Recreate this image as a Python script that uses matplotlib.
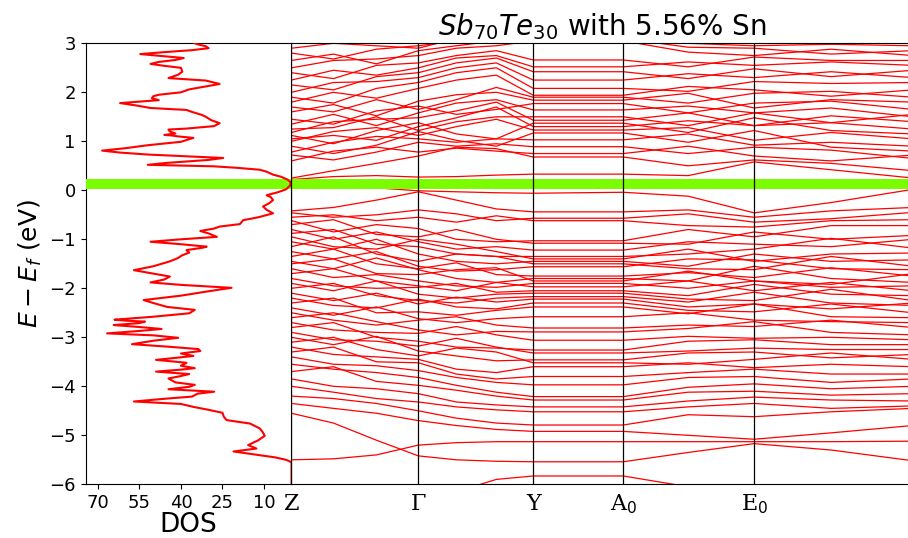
import numpy as np
import matplotlib.pyplot as plt

# density of states (energy in eV, states)
dos_energy = [-6.0, -5.55, -5.50, -5.45, -5.33, -5.27, -5.20, -5.10, -5.01, -4.93,
              -4.86, -4.76, -4.69, -4.62, -4.54, -4.48, -4.42, -4.36, -4.31, -4.25,
              -4.21, -4.15, -4.11, -4.06, -4.01, -3.97, -3.92, -3.84, -3.79, -3.75,
              -3.70, -3.66, -3.63, -3.58, -3.52, -3.46, -3.42, -3.38, -3.33, -3.28,
              -3.24, -3.19, -3.14, -3.07, -3.01, -2.96, -2.92, -2.87, -2.83, -2.79,
              -2.75, -2.71, -2.68, -2.66, -2.64, -2.58, -2.51, -2.44, -2.38, -2.30,
              -2.24, -2.15, -2.06, -1.99, -1.93, -1.88, -1.82, -1.76, -1.70, -1.63,
              -1.55, -1.45, -1.38, -1.33, -1.27, -1.22, -1.17, -1.15, -1.10, -1.05,
              -1.00, -0.95, -0.88, -0.83, -0.78, -0.74, -0.69, -0.61, -0.55, -0.47,
              -0.40, -0.33, -0.26, -0.20, -0.14, -0.10, -0.04, 0.02, 0.10, 0.16,
              0.22, 0.28, 0.32, 0.38, 0.42, 0.46, 0.49, 0.52, 0.56, 0.62,
              0.66, 0.70, 0.73, 0.77, 0.81, 0.86, 0.92, 0.99, 1.07, 1.10,
              1.12, 1.13, 1.16, 1.20, 1.24, 1.26, 1.31, 1.37, 1.43, 1.50,
              1.54, 1.60, 1.64, 1.68, 1.73, 1.78, 1.81, 1.84, 1.88, 1.92,
              1.95, 2.00, 2.06, 2.12, 2.17, 2.24, 2.29, 2.36, 2.42, 2.50,
              2.54, 2.58, 2.62, 2.66, 2.70, 2.74, 2.78, 2.82, 2.86, 2.90,
              2.94, 2.98, 3.0]
dos_states = [0, 0, 2, 6, 21, 12.7, 15.7, 12, 9.7, 10.5,
              11.5, 15, 23.5, 24.5, 25, 30, 35.5, 40, 57, 45,
              36, 34, 28, 44.5, 37, 35, 42, 44.5, 40, 37,
              49, 40, 35, 40, 38, 49, 42, 35.5, 40, 33,
              33.7, 45, 57.7, 50, 41, 50, 66.7, 55, 47, 55,
              64.3, 55, 53, 60, 64, 50, 37, 35, 45, 50,
              53.5, 40, 30, 21.7, 40, 51, 46, 44, 50, 57,
              50, 44, 41, 39.7, 37, 38, 32, 30.7, 40, 51,
              40, 27, 30, 33, 28, 26, 18.7, 17.5, 12, 6.7,
              9, 10.3, 8, 6.7, 7.5, 9, 5, 2, 0.5, 0.3,
              1.5, 4, 6.7, 9, 11.5, 20, 28.3, 52, 45, 30,
              24.7, 40, 52, 62, 68.5, 60, 52, 40, 35.5, 41,
              43.5, 46, 42, 44, 44.5, 38, 28, 26, 29, 31,
              32.5, 36, 38, 51, 56, 62, 55, 48, 50.5, 50,
              48, 40, 37, 31, 26, 31, 44.5, 41, 39.5, 40,
              46, 51, 48, 42, 39, 47, 54.7, 46, 36, 30,
              31, 34, 35]

# k-path (distance along path) and high-symmetry points
k_dist = [0, 42, 85, 127, 165, 205, 242, 332, 397, 463, 540, 622]
sym_index = [0, 3, 6, 7, 9]
sym_labels = ['Z', 'Γ', 'Y', 'A$_0$', 'E$_0$']

# band energies (eV) at each k_dist node
valence = [
    [0.15, 0.12, 0.05, -0.01, -0.03, -0.05, -0.06, -0.04, -0.12, -0.46, -0.25, 0.02],
    [-0.42, -0.35, -0.20, -0.03, -0.20, -0.38, -0.44, -0.44, -0.40, -0.55, -0.42, -0.35],
    [-0.46, -0.55, -0.50, -0.40, -0.48, -0.62, -0.57, -0.57, -0.48, -0.65, -0.58, -0.45],
    [-0.55, -0.50, -0.62, -0.55, -0.65, -0.52, -0.62, -0.62, -0.72, -0.75, -0.62, -0.60],
    [-0.62, -0.85, -0.70, -0.78, -1.00, -1.05, -1.03, -1.03, -0.80, -0.95, -0.72, -0.72],
    [-0.70, -0.60, -0.90, -0.95, -0.80, -1.00, -1.08, -1.08, -1.10, -0.85, -1.00, -0.92],
    [-0.80, -1.00, -0.85, -1.05, -1.20, -1.15, -1.22, -1.22, -1.05, -1.10, -1.15, -1.00],
    [-0.88, -0.80, -1.10, -1.15, -1.30, -1.35, -1.35, -1.35, -1.30, -1.20, -0.98, -1.18],
    [-0.95, -1.15, -1.20, -1.00, -1.10, -1.25, -1.40, -1.40, -1.20, -1.45, -1.30, -1.28],
    [-1.05, -1.20, -1.00, -1.30, -1.45, -1.50, -1.45, -1.45, -1.55, -1.30, -1.45, -1.42],
    [-1.15, -0.95, -1.30, -1.45, -1.30, -1.35, -1.50, -1.50, -1.60, -1.62, -1.35, -1.55],
    [-1.25, -1.40, -1.25, -1.55, -1.65, -1.62, -1.56, -1.56, -1.40, -1.42, -1.60, -1.62],
    [-1.35, -1.20, -1.50, -1.60, -1.48, -1.72, -1.75, -1.75, -1.68, -1.78, -1.58, -1.75],
    [-1.45, -1.60, -1.38, -1.62, -1.80, -1.88, -1.80, -1.80, -1.85, -1.55, -1.80, -1.88],
    [-1.50, -1.40, -1.70, -1.72, -1.62, -1.58, -1.85, -1.85, -1.65, -1.85, -1.92, -1.70],
    [-1.60, -1.78, -1.72, -1.85, -1.95, -1.98, -1.90, -1.90, -2.00, -1.85, -1.98, -1.95],
    [-1.70, -1.60, -1.85, -1.95, -2.05, -1.88, -1.97, -1.97, -1.85, -2.05, -1.88, -2.05],
    [-1.80, -1.95, -2.00, -1.98, -1.90, -2.08, -2.05, -2.05, -2.15, -1.92, -2.12, -2.15],
    [-1.90, -2.05, -1.85, -2.12, -2.20, -2.12, -2.10, -2.10, -2.22, -2.25, -2.02, -2.25],
    [-2.00, -1.90, -2.15, -2.25, -2.30, -2.20, -2.17, -2.17, -2.28, -2.08, -2.30, -2.35],
    [-2.10, -2.25, -2.10, -2.32, -2.18, -2.28, -2.22, -2.22, -2.38, -2.32, -2.42, -2.30],
    [-2.20, -2.35, -2.40, -2.22, -2.38, -2.42, -2.30, -2.30, -2.45, -2.48, -2.32, -2.50],
    [-2.30, -2.20, -2.50, -2.48, -2.55, -2.45, -2.38, -2.38, -2.52, -2.32, -2.58, -2.60],
    [-2.40, -2.55, -2.38, -2.62, -2.70, -2.62, -2.58, -2.58, -2.50, -2.65, -2.68, -2.70],
    [-2.50, -2.65, -2.75, -2.65, -2.58, -2.75, -2.81, -2.81, -2.75, -2.78, -2.65, -2.80],
    [-2.60, -2.50, -2.68, -2.85, -2.95, -2.88, -2.89, -2.89, -2.82, -2.68, -2.90, -2.95],
    [-2.70, -2.85, -2.90, -2.92, -2.78, -2.95, -3.06, -3.06, -2.98, -3.02, -3.00, -3.05],
    [-2.80, -2.70, -3.00, -3.08, -3.20, -3.22, -3.26, -3.26, -3.08, -3.05, -3.15, -3.15],
    [-2.90, -3.05, -3.08, -3.18, -3.02, -3.20, -3.32, -3.32, -3.28, -3.22, -3.25, -3.25],
    [-3.00, -3.15, -2.98, -3.28, -3.38, -3.48, -3.46, -3.46, -3.32, -3.30, -3.42, -3.35],
    [-3.10, -3.00, -3.25, -3.38, -3.22, -3.30, -3.52, -3.52, -3.55, -3.45, -3.32, -3.45],
    [-3.20, -3.35, -3.40, -3.45, -3.65, -3.72, -3.60, -3.60, -3.52, -3.62, -3.55, -3.60],
    [-3.30, -3.20, -3.50, -3.52, -3.75, -3.85, -3.80, -3.80, -3.72, -3.65, -3.75, -3.75],
    [-3.40, -3.55, -3.58, -3.68, -3.82, -3.92, -3.97, -3.97, -3.82, -3.80, -3.92, -3.85],
    [-3.55, -3.65, -3.72, -3.82, -3.98, -4.12, -4.21, -4.21, -4.02, -3.95, -4.05, -4.00],
    [-3.70, -3.60, -3.90, -3.98, -4.08, -4.20, -4.28, -4.28, -4.12, -4.10, -4.18, -4.15],
    [-3.85, -4.00, -4.05, -4.15, -4.32, -4.38, -4.42, -4.42, -4.30, -4.22, -4.28, -4.30],
    [-4.00, -4.12, -4.25, -4.32, -4.42, -4.48, -4.52, -4.52, -4.42, -4.35, -4.45, -4.40],
    [-4.20, -4.25, -4.35, -4.50, -4.65, -4.75, -4.79, -4.79, -4.58, -4.62, -4.52, -4.45],
    [-4.35, -4.45, -4.55, -4.70, -4.80, -4.88, -4.92, -4.92, -5.00, -5.08, -4.95, -4.80],
    [-5.50, -5.48, -5.40, -5.20, -5.15, -5.13, -5.13, -5.13, -5.13, -5.13, -5.13, -5.12],
    [-4.55, -4.75, -5.10, -5.42, -5.50, -5.53, -5.54, -5.54, -5.35, -5.17, -5.30, -5.52],
    [-6.60, -6.55, -6.45, -6.35, -6.15, -5.90, -5.83, -5.83, -6.05, -6.40, -6.40, -6.30],
]
conduction = [
    [0.22, 0.28, 0.30, 0.27, 0.28, 0.31, 0.33, 0.33, 0.30, 0.58, 0.42, 0.25],
    [0.25, 0.40, 0.55, 0.70, 0.88, 0.85, 0.68, 0.68, 0.50, 0.62, 0.55, 0.40],
    [0.60, 0.80, 0.88, 0.78, 0.86, 0.80, 0.75, 0.75, 0.90, 0.70, 0.60, 0.72],
    [0.72, 0.62, 0.78, 0.98, 0.90, 0.95, 0.89, 0.89, 0.75, 0.88, 0.82, 0.65],
    [0.78, 0.98, 1.10, 1.05, 0.98, 1.05, 1.03, 1.03, 1.15, 0.92, 0.98, 0.90],
    [0.90, 0.75, 0.92, 1.20, 1.02, 0.90, 1.17, 1.17, 0.98, 1.22, 0.88, 0.80],
    [1.00, 1.20, 1.28, 1.12, 1.30, 1.45, 1.23, 1.23, 1.28, 1.02, 1.18, 1.05],
    [1.05, 1.12, 1.02, 1.30, 1.48, 1.70, 1.30, 1.30, 1.42, 1.32, 1.38, 1.25],
    [1.12, 0.95, 1.22, 1.38, 1.15, 1.05, 1.37, 1.37, 1.18, 1.48, 1.22, 1.15],
    [1.18, 1.40, 1.45, 1.48, 1.62, 1.80, 1.43, 1.43, 1.58, 1.32, 1.52, 1.40],
    [1.25, 1.28, 1.50, 1.22, 1.40, 1.50, 1.50, 1.50, 1.32, 1.58, 1.38, 1.55],
    [1.35, 1.55, 1.32, 1.58, 1.78, 1.85, 1.64, 1.64, 1.72, 1.58, 1.68, 1.50],
    [1.45, 1.35, 1.62, 1.72, 1.55, 1.65, 1.77, 1.77, 1.58, 1.78, 1.82, 1.65],
    [1.60, 1.75, 1.52, 1.82, 1.95, 2.00, 1.84, 1.84, 1.98, 1.68, 1.85, 1.80],
    [1.70, 1.60, 1.85, 1.65, 1.85, 2.10, 1.90, 1.90, 1.78, 1.98, 2.02, 1.90],
    [1.80, 2.00, 1.88, 2.08, 2.25, 2.35, 1.94, 1.94, 2.12, 2.05, 1.92, 2.05],
    [1.90, 1.78, 2.08, 2.20, 2.40, 2.50, 2.08, 2.08, 2.02, 2.22, 2.18, 2.20],
    [2.00, 2.20, 2.22, 2.30, 2.50, 2.60, 2.25, 2.25, 2.38, 2.30, 2.42, 2.30],
    [2.15, 2.05, 2.32, 2.40, 2.60, 2.70, 2.42, 2.42, 2.28, 2.48, 2.32, 2.45],
    [2.25, 2.45, 2.35, 2.50, 2.70, 2.75, 2.52, 2.52, 2.62, 2.55, 2.62, 2.55],
    [2.40, 2.28, 2.55, 2.60, 2.75, 2.85, 2.66, 2.66, 2.52, 2.72, 2.65, 2.65],
    [2.50, 2.65, 2.68, 2.75, 2.90, 2.95, 3.05, 3.05, 2.82, 2.75, 2.88, 2.75],
    [2.65, 2.78, 2.58, 2.85, 2.95, 3.05, 3.10, 3.10, 2.92, 2.90, 2.78, 2.85],
    [2.80, 2.68, 2.88, 2.95, 3.05, 3.15, 3.15, 3.15, 3.00, 2.95, 2.98, 2.95],
    [2.90, 3.00, 2.95, 2.90, 3.10, 3.20, 3.25, 3.25, 3.10, 3.05, 3.05, 3.00],
]

fermi_lo, fermi_hi = 0.02, 0.24

fig = plt.figure(figsize=(9.08, 5.38), dpi=100)
ax_dos = fig.add_axes([0.0942, 0.0998, 0.2269, 0.8197])
ax_band = fig.add_axes([0.3210, 0.0998, 0.6845, 0.8197])

# DOS panel
ax_dos.plot(dos_states, dos_energy, color='red', lw=1.5, zorder=4)
ax_dos.axhspan(fermi_lo, fermi_hi, color='#7cfc00', lw=0, zorder=3)
ax_dos.set_xlim(74.5, 0)
ax_dos.set_ylim(-6, 3)
ax_dos.set_xticks([70, 55, 40, 25, 10])
ax_dos.set_yticks(range(-6, 4))
ax_dos.tick_params(labelsize=13)
ax_dos.set_xlabel('DOS', fontsize=19, labelpad=0)
ax_dos.set_ylabel(r'$E - E_f$ (eV)', fontsize=18)

# band structure panel
for band in valence + conduction:
    ax_band.plot(k_dist, band, color='red', lw=0.9, zorder=2)
ax_band.axhspan(fermi_lo, fermi_hi, color='#7cfc00', lw=0, zorder=3)
for i in sym_index:
    ax_band.axvline(k_dist[i], color='black', lw=0.9, zorder=4)
ax_band.set_xlim(k_dist[0], k_dist[-1])
ax_band.set_ylim(-6, 3)
ax_band.set_yticks([])
ax_band.set_xticks([k_dist[i] for i in sym_index])
ax_band.set_xticklabels(sym_labels, family='DejaVu Serif', fontsize=16)
ax_band.tick_params(axis='x', length=0, pad=6)
ax_band.set_title(r'$Sb_{70}Te_{30}$ with 5.56% Sn', fontsize=20)

fig.savefig('out.png', dpi=100)
